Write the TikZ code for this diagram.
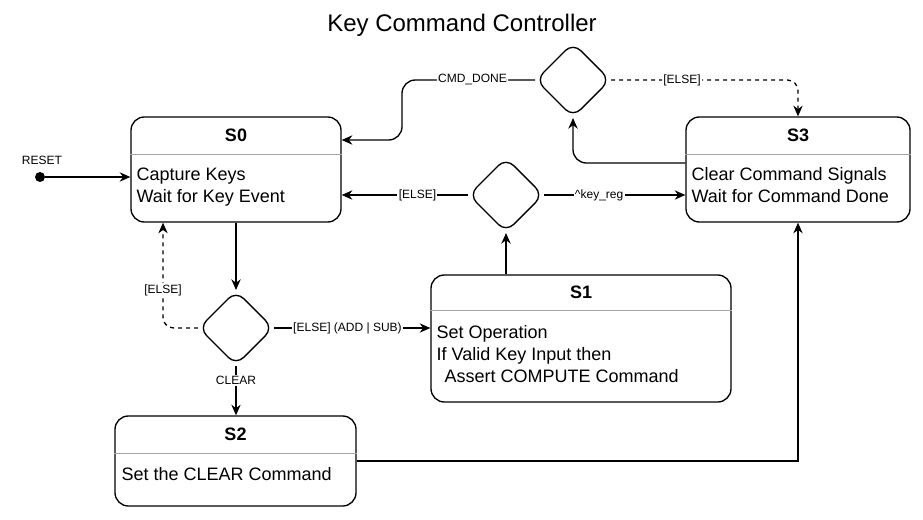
\documentclass[tikz,border=0pt]{standalone}
\usepackage{fontspec}
\setmainfont{Liberation Sans}
\usetikzlibrary{shapes,arrows,positioning,calc,arrows.meta}

\tikzset{
    statebox/.style={draw, line width=1pt, rounded corners=10pt, inner sep=0pt},
    statename/.style={font=\bfseries\fontsize{13.5}{15}\selectfont},
    statebody/.style={anchor=north west, inner sep=0pt, align=left, font=\fontsize{13.5}{16.5}\selectfont},
    divider/.style={gray!70, line width=0.6pt},
    decision/.style={draw, diamond, line width=1pt, rounded corners=8pt, minimum width=56pt, minimum height=56pt, inner sep=0pt},
    flow/.style={line width=1pt, -{Stealth[length=8pt,width=7pt]}},
    lbl/.style={fill=white, inner sep=1pt, font=\fontsize{9}{10}\selectfont}
}

\begin{document}
\begin{tikzpicture}[x=0.75pt, y=-0.75pt]
    \useasboundingbox (0,0) rectangle (923,520);
    \node[font=\fontsize{18}{20}\selectfont] (title) at (462,25) {Key Command Controller};

    % States
    \node[statebox, minimum width=157.5pt, minimum height=78.75pt] (s0) at (236,169.5) {};
    \node[statename] (s0n) at ($(s0.north)+(0,19)$) {S0};
    \draw[divider] ($(s0.north west)+(0,38)$) -- ($(s0.north east)+(0,38)$);
    \node[statebody] (s0b) at ($(s0.north west)+(6,51)$) {Capture Keys\\Wait for Key Event};

    \node[statebox, minimum width=168pt, minimum height=78.75pt] (s3) at (798,169.5) {};
    \node[statename] (s3n) at ($(s3.north)+(0,19)$) {S3};
    \draw[divider] ($(s3.north west)+(0,38)$) -- ($(s3.north east)+(0,38)$);
    \node[statebody] (s3b) at ($(s3.north west)+(6,51)$) {Clear Command Signals\\Wait for Command Done};

    \node[statebox, minimum width=225pt, minimum height=95.25pt] (s1) at (581,338.5) {};
    \node[statename] (s1n) at ($(s1.north)+(0,18)$) {S1};
    \draw[divider] ($(s1.north west)+(0,36)$) -- ($(s1.north east)+(0,36)$);
    \node[statebody] (s1b) at ($(s1.north west)+(6,51)$) {Set Operation\\If Valid Key Input then\\\hspace{6pt}Assert COMPUTE Command};

    \node[statebox, minimum width=180.75pt, minimum height=67.5pt] (s2) at (235.5,461) {};
    \node[statename] (s2n) at ($(s2.north)+(0,19)$) {S2};
    \draw[divider] ($(s2.north west)+(0,38)$) -- ($(s2.north east)+(0,38)$);
    \node[statebody] (s2b) at ($(s2.north west)+(7,52)$) {Set the CLEAR Command};

    % Decisions
    \node[decision] (dtop) at (573,80) {};
    \node[decision] (dmid) at (506,195) {};
    \node[decision] (dlow) at (236,328) {};

    % Reset
    \node[circle, fill, inner sep=0pt, minimum size=7.5pt] (reset) at (40,177) {};
    \node[lbl] (resetl) at (42,160) {RESET};
    \coordinate (cmdturn) at (402,140);

    % Transitions
    \draw[flow] (reset) -- (s0.west |- reset);
    \draw[flow] (s0.south) -- (dlow.north);
    \draw[flow] (dlow.east) -- node[lbl, pos=0.47] {[ELSE] (ADD | SUB)} (s1.west |- dlow);
    \draw[flow] (dlow.south) -- node[lbl, pos=0.3] {CLEAR} (s2.north -| dlow);
    \draw[flow, dashed, rounded corners=8pt] (dlow.west) -| node[lbl, pos=0.68] {[ELSE]} ([xshift=-54.75pt]s0.south);
    \draw[flow] (s1.north -| dmid) -- (dmid.south);
    \draw[flow] (dmid.west) -- node[lbl, pos=0.4] {[ELSE]} (s0.east |- dmid);
    \draw[flow] (dmid.east) -- node[lbl, pos=0.39] {\textasciicircum key\_reg} (s3.west |- dmid);
    \draw[flow, rounded corners=10pt] ([yshift=4.875pt]s3.west) -| (dtop.south);
    \draw[flow, rounded corners=10pt] (dtop.west) -| node[lbl, pos=0.235] {CMD\_DONE} (cmdturn) -- (s0.east |- cmdturn);
    \draw[flow, dashed, rounded corners=8pt] (dtop.east) -| node[lbl, pos=0.19] {[ELSE]} (s3.north);
    \draw[flow] (s2.east) -| (s3.south);
\end{tikzpicture}
\end{document}
